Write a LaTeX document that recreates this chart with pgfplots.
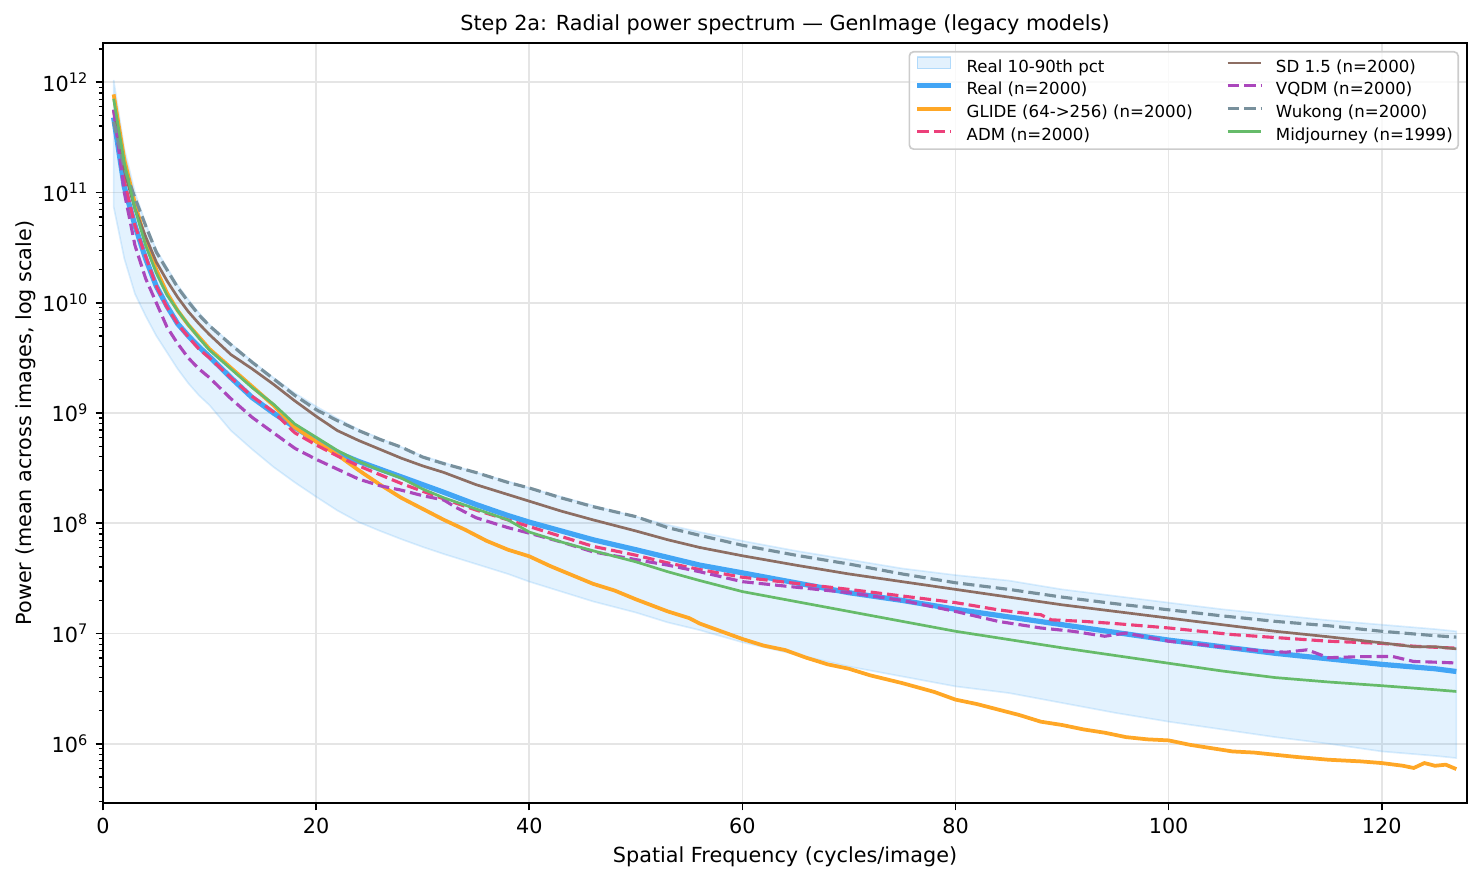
\documentclass[border=0pt]{standalone}
\usepackage{fontspec}
\setmainfont{DejaVu Sans}
\usepackage{pgfplots}
\usepackage{pgfplotstable}
\pgfplotsset{compat=1.18}
\usepgfplotslibrary{fillbetween}

\definecolor{cReal}{HTML}{42A5F5}
\definecolor{cGlide}{HTML}{FFA726}
\definecolor{cAdm}{HTML}{EC407A}
\definecolor{cSd}{HTML}{8D6E63}
\definecolor{cVqdm}{HTML}{AB47BC}
\definecolor{cWukong}{HTML}{78909C}
\definecolor{cMj}{HTML}{66BB6A}
\definecolor{cGrid}{RGB}{229,229,229}
\definecolor{cFrame}{RGB}{204,204,204}

\tikzset{mpldash/.style={dash pattern=on 5.5bp off 2.4bp}}

% 10th / 90th percentile of the real images
\pgfplotstableread{
f    lo        hi
1    7.413e10  1.047e12
2    2.512e10  2.512e11
3    1.202e10  1.000e11
4    7.586e9   5.248e10
5    5.012e9   3.020e10
6    3.548e9   2.089e10
7    2.512e9   1.445e10
8    1.862e9   1.072e10
9    1.445e9   8.128e9
10   1.175e9   6.310e9
12   6.918e8   4.266e9
14   4.677e8   2.951e9
16   3.236e8   2.089e9
18   2.344e8   1.514e9
20   1.738e8   1.148e9
22   1.303e8   8.913e8
24   1.023e8   7.079e8
26   8.511e7   5.888e8
28   7.161e7   4.898e8
30   6.095e7   4.074e8
32   5.248e7   3.548e8
35   4.266e7   2.884e8
38   3.467e7   2.399e8
40   2.951e7   2.089e8
43   2.399e7   1.738e8
46   1.950e7   1.445e8
50   1.549e7   1.148e8
53   1.259e7   9.66e7
56   1.072e7   8.318e7
60   8.318e6   6.918e7
65   6.457e6   5.623e7
70   5.012e6   4.677e7
75   4.074e6   3.890e7
80   3.311e6   3.388e7
85   2.884e6   3.020e7
90   2.344e6   2.512e7
95   1.905e6   2.188e7
100  1.585e6   1.905e7
105  1.349e6   1.660e7
110  1.148e6   1.479e7
115  1.000e6   1.318e7
120  8.511e5   1.202e7
125  7.762e5   1.096e7
127  7.413e5   1.047e7
}\tblband

\pgfplotstableread{
f    p
1    4.786e11
2    1.122e11
3    5.012e10
4    2.512e10
5    1.413e10
6    9.333e9
7    6.457e9
8    5.012e9
9    3.981e9
10   3.236e9
12   2.089e9
14   1.380e9
16   1.000e9
18   7.413e8
20   5.623e8
22   4.365e8
24   3.631e8
26   3.090e8
28   2.630e8
30   2.239e8
32   1.905e8
35   1.479e8
38   1.175e8
40   1.023e8
43   8.511e7
46   7.079e7
50   5.754e7
53   4.898e7
56   4.169e7
60   3.548e7
65   2.884e7
70   2.344e7
75   1.995e7
80   1.660e7
85   1.413e7
90   1.202e7
95   1.023e7
100  8.710e6
105  7.586e6
110  6.607e6
115  5.888e6
120  5.248e6
125  4.786e6
127  4.52e6
}\tblreal

\pgfplotstableread{
f    p
1    7.762e11
2    1.995e11
3    7.943e10
4    3.631e10
5    1.995e10
6    1.230e10
7    8.511e9
8    6.310e9
9    4.898e9
10   3.802e9
12   2.570e9
14   1.738e9
16   1.175e9
18   7.413e8
20   5.495e8
22   4.169e8
24   3.020e8
26   2.239e8
28   1.698e8
30   1.349e8
32   1.072e8
34   8.710e7
36   6.918e7
38   5.754e7
40   5.012e7
42   4.074e7
44   3.388e7
46   2.818e7
48   2.455e7
50   2.042e7
53   1.585e7
55   1.380e7
56   1.230e7
58   1.047e7
60   8.913e6
62   7.762e6
64   7.079e6
66   6.026e6
68   5.248e6
70   4.786e6
72   4.169e6
75   3.548e6
78   2.951e6
80   2.512e6
82   2.291e6
84   2.042e6
86   1.820e6
88   1.585e6
90   1.479e6
92   1.349e6
94   1.259e6
96   1.148e6
98   1.096e6
100  1.072e6
102  9.772e5
104  9.120e5
106  8.511e5
108  8.318e5
110  7.943e5
112  7.586e5
115  7.16e5
118  6.918e5
120  6.68e5
122  6.310e5
123  6.026e5
124  6.68e5
125  6.310e5
126  6.457e5
127  5.888e5
}\tblglide

\pgfplotstableread{
f    p
1    5.623e11
2    1.259e11
3    5.012e10
4    2.630e10
5    1.413e10
6    9.120e9
7    6.457e9
8    4.898e9
9    3.802e9
10   3.162e9
12   2.089e9
14   1.413e9
16   1.023e9
18   6.607e8
20   5.129e8
22   4.074e8
24   3.311e8
26   2.754e8
28   2.291e8
30   1.950e8
32   1.660e8
35   1.318e8
38   1.072e8
40   9.333e7
43   7.586e7
46   6.166e7
50   5.129e7
53   4.365e7
56   3.802e7
60   3.236e7
65   2.85e7
70   2.512e7
75   2.188e7
80   1.905e7
84   1.64e7
86   1.549e7
88   1.479e7
89   1.33e7
92   1.288e7
95   1.230e7
100  1.122e7
103  1.047e7
106  9.772e6
109  9.333e6
112  8.913e6
115  8.511e6
120  8.128e6
123  7.67e6
125  7.50e6
127  7.36e6
}\tbladm

\pgfplotstableread{
f    p
1    5.623e11
2    1.585e11
3    7.079e10
4    3.981e10
5    2.344e10
6    1.585e10
7    1.122e10
8    8.318e9
9    6.457e9
10   5.129e9
12   3.388e9
14   2.512e9
16   1.820e9
18   1.288e9
20   9.333e8
22   6.918e8
24   5.623e8
26   4.677e8
28   3.890e8
30   3.311e8
32   2.884e8
35   2.239e8
38   1.820e8
40   1.585e8
43   1.288e8
46   1.072e8
50   8.511e7
53   7.079e7
56   6.026e7
60   5.07e7
65   4.169e7
70   3.467e7
75   2.951e7
80   2.512e7
85   2.138e7
90   1.820e7
95   1.585e7
100  1.380e7
105  1.202e7
110  1.047e7
115  9.333e6
120  8.22e6
123  7.586e6
125  7.586e6
127  7.26e6
}\tblsd

\pgfplotstableread{
f    p
1    5.623e11
2    1.000e11
3    3.311e10
4    1.660e10
5    1.000e10
6    6.026e9
7    4.266e9
8    3.162e9
9    2.512e9
10   2.089e9
12   1.349e9
14   9.120e8
16   6.607e8
18   4.786e8
20   3.802e8
22   3.090e8
24   2.512e8
26   2.188e8
28   1.995e8
30   1.778e8
32   1.622e8
33   1.413e8
35   1.122e8
38   9.120e7
40   8.128e7
43   6.761e7
46   5.495e7
50   4.677e7
53   4.169e7
56   3.631e7
60   2.951e7
65   2.630e7
70   2.344e7
75   1.995e7
80   1.585e7
84   1.288e7
88   1.122e7
91   1.047e7
94   9.44e6
96   1.009e7
100  8.511e6
103  7.943e6
106  7.36e6
109  6.918e6
111  6.761e6
113  7.11e6
115  6.026e6
118  6.166e6
121  6.19e6
123  5.57e6
125  5.495e6
127  5.40e6
}\tblvqdm

\pgfplotstableread{
f    p
1    4.365e11
2    1.660e11
3    8.913e10
4    5.012e10
5    2.884e10
6    1.995e10
7    1.380e10
8    1.023e10
9    7.762e9
10   6.166e9
12   4.169e9
14   2.884e9
16   2.042e9
18   1.445e9
20   1.072e9
22   8.511e8
24   6.918e8
26   5.754e8
28   4.898e8
30   3.981e8
32   3.467e8
35   2.884e8
38   2.344e8
40   2.089e8
43   1.698e8
46   1.413e8
50   1.148e8
53   9.120e7
56   7.762e7
60   6.310e7
65   5.129e7
70   4.266e7
75   3.467e7
80   2.884e7
85   2.512e7
90   2.138e7
95   1.862e7
100  1.64e7
105  1.445e7
110  1.288e7
115  1.175e7
120  1.047e7
125  9.550e6
127  9.27e6
}\tblwukong

\pgfplotstableread{
f    p
1    7.079e11
2    1.862e11
3    7.079e10
4    3.311e10
5    1.862e10
6    1.175e10
7    8.511e9
8    6.310e9
9    4.786e9
10   3.715e9
12   2.512e9
14   1.698e9
16   1.202e9
18   7.943e8
20   6.026e8
22   4.571e8
24   3.631e8
26   3.020e8
28   2.570e8
30   2.042e8
32   1.698e8
35   1.349e8
38   1.072e8
40   8.318e7
43   6.761e7
46   5.623e7
50   4.467e7
53   3.631e7
56   3.020e7
60   2.399e7
65   1.950e7
70   1.585e7
75   1.288e7
80   1.047e7
85   8.810e6
90   7.413e6
95   6.310e6
100  5.370e6
105  4.571e6
110  3.981e6
115  3.631e6
120  3.36e6
125  3.090e6
127  2.98e6
}\tblmj

\begin{document}
\begin{tikzpicture}
\begin{axis}[
  scale only axis,
  width=654.72bp, height=364.8bp,
  ymode=log, log basis y=10,
  xmin=0, xmax=128,
  ymin=2.9e5, ymax=2.27e12,
  xtick={0,20,...,120},
  ytick={1e6,1e7,1e8,1e9,1e10,1e11,1e12},
  yticklabels={10\textsuperscript{6},10\textsuperscript{7},10\textsuperscript{8},10\textsuperscript{9},10\textsuperscript{10},10\textsuperscript{11},10\textsuperscript{12}},
  minor ytick={3e5,4e5,5e5,6e5,7e5,8e5,9e5,
    2e6,3e6,4e6,5e6,6e6,7e6,8e6,9e6,
    2e7,3e7,4e7,5e7,6e7,7e7,8e7,9e7,
    2e8,3e8,4e8,5e8,6e8,7e8,8e8,9e8,
    2e9,3e9,4e9,5e9,6e9,7e9,8e9,9e9,
    2e10,3e10,4e10,5e10,6e10,7e10,8e10,9e10,
    2e11,3e11,4e11,5e11,6e11,7e11,8e11,9e11,2e12},
  /pgf/number format/assume math mode=true,
  tick align=outside,
  tick pos=left,
  major tick length=3.5bp,
  minor tick length=2bp,
  every tick/.style={black, line width=0.8bp},
  minor tick style={line width=0.6bp},
  grid=major,
  major grid style={cGrid, line width=0.8bp},
  axis line style={black, line width=0.8bp},
  tick label style={font=\fontsize{10}{12}\selectfont},
  title={Step 2a: Radial power spectrum — GenImage (legacy models)},
  title style={at={(axis description cs:0.5,1)}, anchor=base,
    inner sep=0pt, font=\fontsize{10}{12}\selectfont},
  xlabel={Spatial Frequency (cycles/image)},
  xlabel style={at={(axis description cs:0.5,0)}, anchor=north, yshift=-21bp,
    inner sep=0pt, font=\fontsize{10}{12}\selectfont},
  ylabel={Power (mean across images, log scale)},
  ylabel style={at={(axis description cs:-0.0486,0.5)}, anchor=south,
    inner sep=0pt, font=\fontsize{10}{12}\selectfont},
  legend columns=2,
  legend cell align=left,
  legend image code/.code={\draw[#1] (0bp,2.3bp) -- (16bp,2.3bp);},
  legend style={
    at={(axis description cs:1,1)}, anchor=north east,
    xshift=-3.84bp, yshift=-3.84bp,
    draw=cFrame, line width=0.8bp, rounded corners=2bp,
    fill=white, fill opacity=0.8, text opacity=1, draw opacity=1,
    font=\fontsize{8}{9.6}\selectfont,
    inner xsep=2.6bp, inner ysep=2.2bp,
    row sep=3.2bp,
    nodes={inner xsep=0pt, inner ysep=0pt, text height=6bp, text depth=1.8bp},
    /tikz/every odd column/.append style={column sep=6.4bp},
    /tikz/every even column/.append style={column sep=16bp},
  },
]
% percentile band
\addplot[name path=bandhi, draw=none, forget plot] table[x=f, y=hi] {\tblband};
\addplot[name path=bandlo, draw=none, forget plot] table[x=f, y=lo] {\tblband};
\addplot[fill=cReal, fill opacity=0.15, draw=cReal, draw opacity=0.18,
  line width=0.8bp, forget plot] fill between[of=bandhi and bandlo];

% mean spectra
\addplot[cReal, line width=2.5bp, forget plot] table[x=f, y=p] {\tblreal};
\addplot[cGlide, line width=1.8bp, forget plot] table[x=f, y=p] {\tblglide};
\addplot[cAdm, line width=1.5bp, mpldash, forget plot] table[x=f, y=p] {\tbladm};
\addplot[cSd, line width=1.3bp, forget plot] table[x=f, y=p] {\tblsd};
\addplot[cVqdm, line width=1.5bp, mpldash, forget plot] table[x=f, y=p] {\tblvqdm};
\addplot[cWukong, line width=1.5bp, mpldash, forget plot] table[x=f, y=p] {\tblwukong};
\addplot[cMj, line width=1.3bp, forget plot] table[x=f, y=p] {\tblmj};

% legend, filled row by row
\addlegendimage{legend image code/.code={\draw[sharp corners, fill=cReal, fill opacity=0.15,
  draw=cReal, draw opacity=0.3, line width=0.6bp] (0bp,-0.5bp) rectangle (16bp,5.1bp);}}
\addlegendentry{Real 10-90th pct}
\addlegendimage{cSd, line width=1.3bp}
\addlegendentry{SD 1.5 (n=2000)}
\addlegendimage{cReal, line width=2.5bp}
\addlegendentry{Real (n=2000)}
\addlegendimage{cVqdm, line width=1.5bp, mpldash}
\addlegendentry{VQDM (n=2000)}
\addlegendimage{cGlide, line width=1.8bp}
\addlegendentry{GLIDE (64->256) (n=2000)}
\addlegendimage{cWukong, line width=1.5bp, mpldash}
\addlegendentry{Wukong (n=2000)}
\addlegendimage{cAdm, line width=1.5bp, mpldash}
\addlegendentry{ADM (n=2000)}
\addlegendimage{cMj, line width=1.3bp}
\addlegendentry{Midjourney (n=1999)}
\end{axis}
\pgfresetboundingbox
\path[use as bounding box]
  ([xshift=-49.44bp, yshift=-37.92bp]current axis.south west)
  rectangle ([xshift=7.68bp, yshift=20.64bp]current axis.north east);
\end{tikzpicture}
\end{document}
